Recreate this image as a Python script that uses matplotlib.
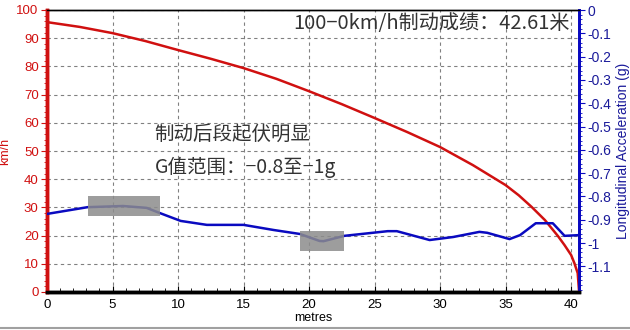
import matplotlib
matplotlib.use("Agg")
import matplotlib.pyplot as plt
from matplotlib.patches import Rectangle
from matplotlib.ticker import MultipleLocator, FixedLocator, FixedFormatter

plt.rcParams['font.family'] = ['Liberation Sans', 'DejaVu Sans']

# Speed trace (km/h) against distance (m)
speed_dist = [0, 2.5, 5, 7.5, 10, 12.5, 15, 17.5, 20, 22.5, 25, 27.5, 30, 32.5,
              35, 36, 37, 38, 39, 39.5, 40, 40.25, 40.5, 40.6]
speed_kmh = [95.7, 94.0, 91.8, 89.0, 85.8, 82.7, 79.4, 75.6, 71.2, 66.6, 61.7, 56.7,
             51.4, 45.0, 37.9, 34.3, 30.1, 25.5, 19.8, 16.6, 13.1, 10.2, 6.7, 0.5]

# Longitudinal acceleration (g) against distance (m)
acc_dist = [0, 3.1, 5.8, 7.6, 8.6, 10.2, 12.2, 15, 17.3, 19.3, 20.8, 21.1, 22.7,
            26.0, 26.7, 29.2, 31.0, 33.0, 33.6, 35.3, 36.1, 37.3, 38.6, 39.5, 40.6]
acc_g = [-0.875, -0.846, -0.841, -0.849, -0.871, -0.905, -0.922, -0.922, -0.944,
         -0.961, -0.991, -0.992, -0.969, -0.949, -0.949, -0.987, -0.974, -0.952,
         -0.956, -0.983, -0.966, -0.915, -0.915, -0.969, -0.966]

# Highlighted regions: (x0, x1, speed-axis y0, y1)
highlights = [(3.1, 8.6, 27, 34), (19.3, 22.7, 14.5, 21.6)]

title_text = "100−0km/h制动成绩：42.61米"
note_lines = ["制动后段起伏明显", "G值范围：−0.8至−1g"]

right_ticks = [0, -0.1, -0.2, -0.3, -0.4, -0.5, -0.6, -0.7, -0.8, -0.9, -1.0, -1.1]
right_labels = ["0", "-0.1", "-0.2", "-0.3", "-0.4", "-0.5", "-0.6", "-0.7",
                "-0.8", "-0.9", "-1", "-1.1"]

RED = "#d01010"
BLUE = "#0a0ac0"
BLUE_T = "#1a1a9a"

fig = plt.figure(figsize=(6.3, 3.3), dpi=100)
ax = fig.add_axes([47 / 630, 38 / 330, 532 / 630, 282 / 330])
ax2 = ax.twinx()

ax.set_xlim(0, 40.6)
ax.set_ylim(0, 100)
ax2.set_ylim(-1.21, 0)

ax.grid(True, which='major', linestyle=(0, (3, 3)), color='#808080', linewidth=0.8)
ax.set_axisbelow(True)

ax.plot(speed_dist, speed_kmh, color=RED, linewidth=1.8, zorder=3)
ax2.plot(acc_dist, acc_g, color=BLUE, linewidth=1.8, zorder=3)

ax2.set_zorder(ax.get_zorder() + 1)
ax2.patch.set_visible(False)
for x0, x1, y0, y1 in highlights:
    # boxes sit above the acceleration line so it shows through faintly
    ax2.add_patch(Rectangle((x0, (y0 - 100) * 0.0121), x1 - x0, (y1 - y0) * 0.0121,
                            facecolor='#8c8c8c', edgecolor='none', alpha=0.85, zorder=4))

# Axis styling
ax.xaxis.set_major_locator(MultipleLocator(5))
ax.xaxis.set_minor_locator(MultipleLocator(1))
ax.yaxis.set_major_locator(MultipleLocator(10))
ax.yaxis.set_minor_locator(MultipleLocator(2))
ax.tick_params(axis='x', which='major', direction='in', length=4, colors='black',
               labelsize=9.5, pad=5)
ax.tick_params(axis='x', which='minor', direction='in', length=3)
ax.tick_params(axis='y', which='major', direction='out', length=4, color=RED,
               labelcolor=RED, labelsize=9.5, pad=2)
ax.tick_params(axis='y', which='minor', direction='out', length=2, color=RED)

ax2.yaxis.set_major_locator(FixedLocator(right_ticks))
ax2.yaxis.set_major_formatter(FixedFormatter(right_labels))
ax2.yaxis.set_minor_locator(MultipleLocator(0.02))
ax2.tick_params(axis='y', which='major', direction='out', length=4, color=BLUE,
                labelcolor=BLUE_T, labelsize=10, pad=2)
ax2.tick_params(axis='y', which='minor', direction='out', length=2, color=BLUE)

for a in (ax, ax2):
    a.spines['left'].set_color(RED)
    a.spines['left'].set_linewidth(2.5)
    a.spines['bottom'].set_color('black')
    a.spines['bottom'].set_linewidth(2.5)
    a.spines['top'].set_color('black')
    a.spines['top'].set_linewidth(1.0)
    a.spines['right'].set_color(BLUE)
    a.spines['right'].set_linewidth(2.0)

ax.set_xlabel("metres", fontsize=9, labelpad=1)
ax.set_ylabel("km/h", color=RED, fontsize=9, labelpad=4)
ax2.set_ylabel("Longitudinal Acceleration (g)", color=BLUE_T, fontsize=10, labelpad=3)

cjk = ['Noto Sans CJK SC', 'DejaVu Sans']
ax.text(39.9, 95.2, title_text, ha='right', va='center', fontsize=14.5,
        color='#333333', family=cjk, zorder=5)
ax.text(8.2, 55.8, note_lines[0], ha='left', va='center', fontsize=14,
        color='#333333', family=cjk, zorder=5)
ax.text(8.2, 44.2, note_lines[1], ha='left', va='center', fontsize=14,
        color='#333333', family=cjk, zorder=5)

fig.add_artist(plt.Line2D([0, 1], [0.006, 0.006], color='#a0a0a0', linewidth=1.5,
                          transform=fig.transFigure))

fig.savefig("out.png", dpi=100)
